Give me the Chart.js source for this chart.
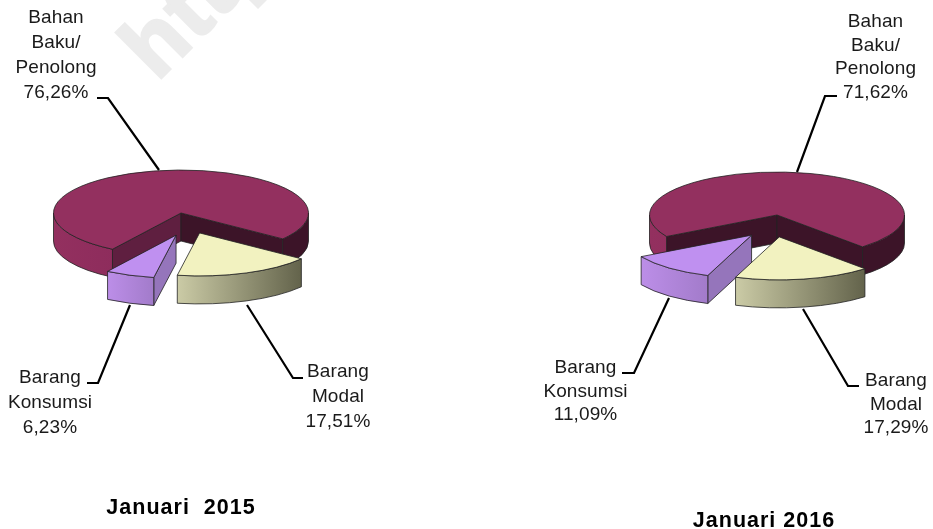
<!DOCTYPE html>
<html lang="id">
  <head>
    <meta charset="UTF-8" />
    <title>Januari 2015 dan Januari 2016</title>
    <style>
      * { margin: 0; padding: 0; box-sizing: border-box; }
      body { background: #fff; overflow: hidden; }
      .page { position: relative; width: 933px; height: 529px; }
      .page canvas { position: absolute; left: 0; top: 0; }
    </style>
  </head>
  <body>
    <div class="page">
      <canvas id="chart2015" width="933" height="529"></canvas>
      <canvas id="chart2016" width="933" height="529"></canvas>
    </div>

    <script src="https://cdn.jsdelivr.net/npm/chart.js"></script>
    <script>
      const categories = ["Bahan Baku/ Penolong", "Barang Modal", "Barang Konsumsi"];
      const values2015 = [76.26, 17.51, 6.23];
      const values2016 = [71.62, 17.29, 11.09];
      const labelLines = [["Bahan", "Baku/", "Penolong"], ["Barang", "Modal"], ["Barang", "Konsumsi"]];

      const SQUASH = 0.337;
      const DEPTH = 28;
      const FONT = '"Liberation Sans", Arial, sans-serif';

      const topColors = ["#93305f", "#f2f2c0", "#bf90f0"];
      const wallStops = [
        [[0, "#93305f"], [0.45, "#89295a"], [0.55, "#3c1428"], [1, "#3c1428"]],
        [[0, "#cbcba6"], [1, "#63634b"]],
        [[0, "#bc8ee8"], [1, "#a27bca"]],
      ];

      function pct(v) {
        return v.toFixed(2).replace(".", ",") + "%";
      }

      function drawSlice(ctx, el, i, cfg, pieLeft, pieWidth) {
        const { x, y, startAngle, endAngle, outerRadius } = el.getProps(["x", "y", "startAngle", "endAngle", "outerRadius"]);
        const r = outerRadius;
        const ry = r * SQUASH;
        const dir = (startAngle + endAngle) / 2 + (cfg.skew[i] * Math.PI) / 180;
        const dist = el.options.offset || 0;
        const cx = x + dist * Math.cos(dir);
        const cy = y + dist * Math.sin(dir) * SQUASH;

        ctx.lineWidth = 0.8;
        ctx.strokeStyle = "#222";

        // cut faces
        [[startAngle, -Math.cos(startAngle) > 0, cfg.faces[i][0]], [endAngle, Math.cos(endAngle) > 0, cfg.faces[i][1]]].forEach(([a, visible, color]) => {
          if (!visible) return;
          const px = cx + r * Math.cos(a);
          const py = cy + ry * Math.sin(a);
          ctx.beginPath();
          ctx.moveTo(cx, cy);
          ctx.lineTo(px, py);
          ctx.lineTo(px, py + DEPTH);
          ctx.lineTo(cx, cy + DEPTH);
          ctx.closePath();
          ctx.fillStyle = color;
          ctx.fill();
          ctx.stroke();
        });

        // outer wall, only the front half of the ellipse shows
        for (let k = -1; k < 3; k++) {
          const a = Math.max(startAngle, k * 2 * Math.PI);
          const b = Math.min(endAngle, k * 2 * Math.PI + Math.PI);
          if (b <= a) continue;
          const gx0 = i === 0 ? pieLeft : cx + r * Math.cos(b);
          const gx1 = i === 0 ? pieLeft + pieWidth : cx + r * Math.cos(a);
          const grad = ctx.createLinearGradient(gx0, 0, gx1, 0);
          wallStops[i].forEach(([p, c]) => grad.addColorStop(p, c));
          ctx.beginPath();
          ctx.ellipse(cx, cy, r, ry, 0, a, b);
          ctx.ellipse(cx, cy + DEPTH, r, ry, 0, b, a, true);
          ctx.closePath();
          ctx.fillStyle = grad;
          ctx.fill();
          ctx.stroke();
        }

        // top face
        ctx.beginPath();
        ctx.moveTo(cx, cy);
        ctx.ellipse(cx, cy, r, ry, 0, startAngle, endAngle);
        ctx.closePath();
        ctx.fillStyle = topColors[i];
        ctx.fill();
        ctx.stroke();
      }

      function flatPiePlugin(cfg) {
        return {
          id: "flatPie",
          beforeDraw(chart) {
            if (!cfg.watermark) return;
            const ctx = chart.ctx;
            ctx.save();
            ctx.translate(157, 82);
            ctx.rotate(-Math.PI / 4);
            ctx.font = "bold 88px " + FONT;
            ctx.fillStyle = "#ececec";
            ctx.strokeStyle = "#ececec";
            ctx.lineWidth = 3;
            ctx.letterSpacing = "2px";
            ctx.fillText(cfg.watermark, 0, 0);
            ctx.strokeText(cfg.watermark, 0, 0);
            ctx.restore();
          },
          beforeDatasetsDraw(chart) {
            const ctx = chart.ctx;
            const arcs = chart.getDatasetMeta(0).data;
            const left = arcs[0].x - arcs[0].outerRadius;
            const width = arcs[0].outerRadius * 2;
            ctx.save();
            [0, 2, 1].forEach((i) => drawSlice(ctx, arcs[i], i, cfg, left, width));
            ctx.restore();
            return false;
          },
          afterDraw(chart) {
            const ctx = chart.ctx;
            const values = chart.data.datasets[0].data;
            ctx.save();
            ctx.strokeStyle = "#000";
            ctx.lineWidth = 2.2;
            cfg.leaders.forEach((pts) => {
              ctx.beginPath();
              pts.forEach(([px, py], n) => (n ? ctx.lineTo(px, py) : ctx.moveTo(px, py)));
              ctx.stroke();
            });
            ctx.fillStyle = "#1a1a1a";
            ctx.textAlign = "center";
            ctx.font = "19px " + FONT;
            ctx.letterSpacing = "0.1px";
            cfg.labels.forEach((pos, i) => {
              labelLines[i].concat(pct(values[i])).forEach((line, n) => {
                ctx.fillText(line, pos.x, pos.y + n * cfg.pitch);
              });
            });
            ctx.fillStyle = "#000";
            ctx.font = "bold 21.5px " + FONT;
            ctx.letterSpacing = "1px";
            ctx.fillText(cfg.title.text, cfg.title.x, cfg.title.y);
            ctx.restore();
          },
        };
      }

      function makeChart(id, values, cfg) {
        return new Chart(document.getElementById(id), {
          type: "pie",
          data: {
            labels: categories,
            datasets: [{ data: values, backgroundColor: topColors, borderWidth: 0, offset: cfg.offset }],
          },
          options: {
            responsive: false,
            animation: false,
            rotation: cfg.rotation,
            radius: 127.5,
            layout: { padding: cfg.padding },
            plugins: { legend: { display: false }, tooltip: { enabled: false } },
          },
          plugins: [flatPiePlugin(cfg)],
        });
      }

      makeChart("chart2015", values2015, {
        rotation: 212.5,
        padding: { right: 571, bottom: 103 },
        offset: [0, 62, 66],
        skew: [0, 4, -17],
        faces: [["#5f1f40", "#3c1428"], ["#66664e", "#66664e"], ["#9575bb", "#9575bb"]],
        watermark: "http",
        pitch: 25,
        title: { text: "Januari  2015", x: 181, y: 514 },
        labels: [{ x: 56, y: 23 }, { x: 338, y: 377 }, { x: 50, y: 383 }],
        leaders: [
          [[97, 98], [108, 98], [159, 170]],
          [[247, 305], [293, 378], [303, 378]],
          [[130, 305], [98, 383], [87, 383]],
        ],
      });

      makeChart("chart2016", values2016, {
        rotation: 240,
        padding: { left: 621, bottom: 99 },
        offset: [0, 65, 65],
        skew: [0, 9, -17],
        faces: [["#3c1428", "#3c1428"], ["#66664e", "#66664e"], ["#9575bb", "#9575bb"]],
        pitch: 23.5,
        title: { text: "Januari 2016", x: 764, y: 527 },
        labels: [{ x: 875.5, y: 27 }, { x: 896, y: 386 }, { x: 585.5, y: 373 }],
        leaders: [
          [[797, 172], [825, 96], [837, 96]],
          [[803, 309], [848, 386], [859, 386]],
          [[669, 298], [634, 373], [622, 373]],
        ],
      });
    </script>
  </body>
</html>
